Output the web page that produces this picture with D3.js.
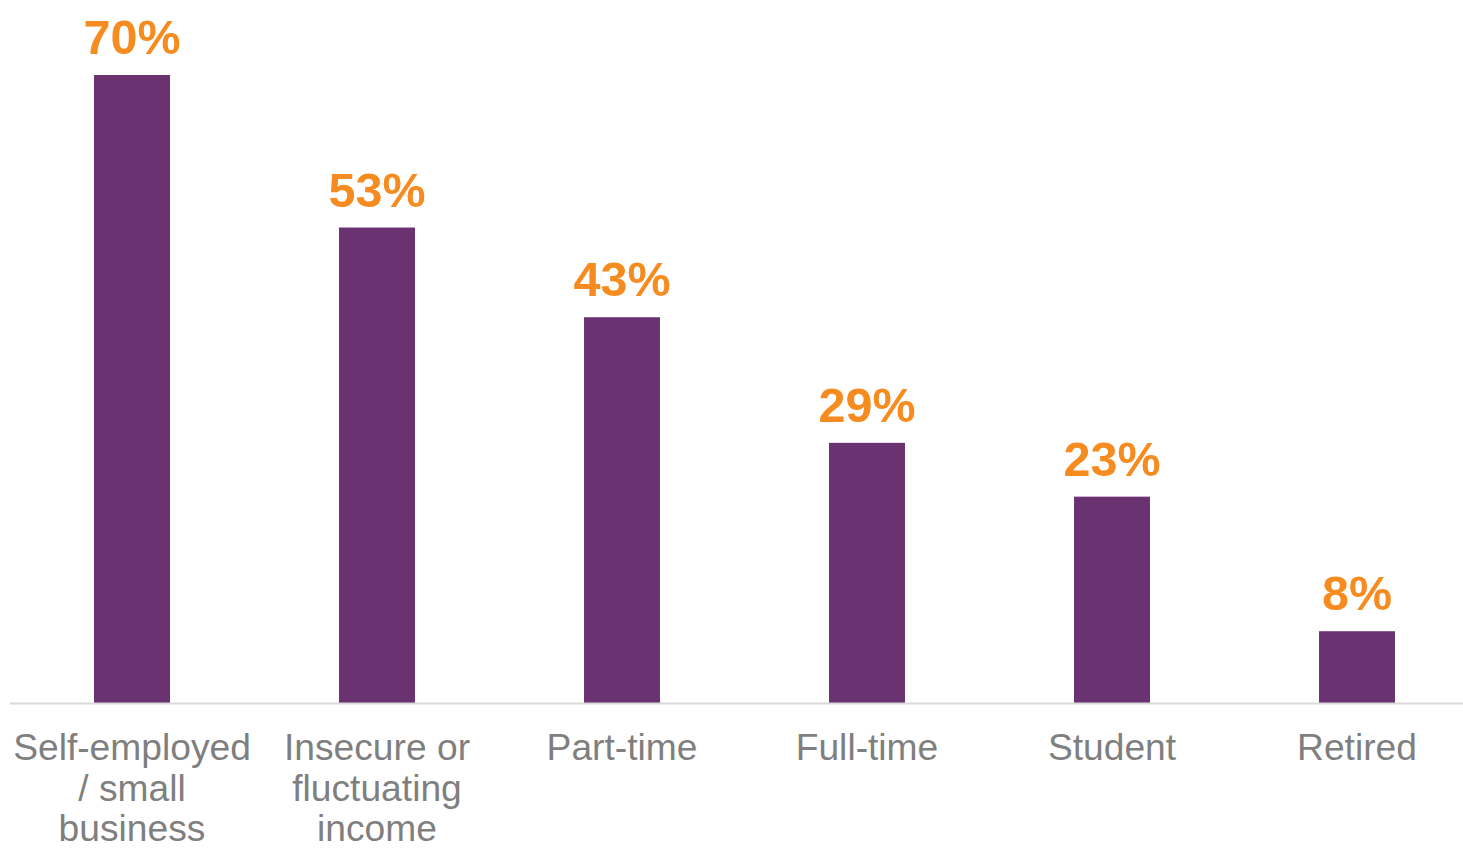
<!DOCTYPE html>
<html>
<head>
<meta charset="utf-8">
<script src="https://cdn.jsdelivr.net/npm/d3@7/dist/d3.min.js"></script>
<style>
  html, body { margin: 0; padding: 0; background: #ffffff; }
  svg { display: block; }
</style>
</head>
<body>
<svg id="chart" width="1463" height="849"></svg>
<script>
// Share of respondents by employment status
const categories = [
  ["Self-employed", "/ small", "business"],
  ["Insecure or", "fluctuating", "income"],
  ["Part-time"],
  ["Full-time"],
  ["Student"],
  ["Retired"]
];
const values = [70, 53, 43, 29, 23, 8];
const valueLabels = ["70%", "53%", "43%", "29%", "23%", "8%"];

const svg = d3.select("#chart");
const baseline = 703;

const keys = categories.map((c, i) => i);
const x = d3.scaleBand()
  .domain(keys)
  .range([9.5, 1479.5])
  .paddingInner(0.69)
  .paddingOuter(0.345);

const y = d3.scaleLinear()
  .domain([0, 70])
  .range([baseline, 75]);

// bars
svg.append("g")
  .selectAll("rect")
  .data(values)
  .join("rect")
  .attr("x", (d, i) => x(i))
  .attr("y", d => y(d))
  .attr("width", x.bandwidth())
  .attr("height", d => y(0) - y(d))
  .attr("fill", "#6a3271");

// baseline axis
svg.append("line")
  .attr("x1", 10).attr("x2", 1463)
  .attr("y1", baseline + 0.5).attr("y2", baseline + 0.5)
  .attr("stroke", "#d9d9d9")
  .attr("stroke-width", 2);

// value labels
svg.append("g")
  .selectAll("text")
  .data(values)
  .join("text")
  .attr("x", (d, i) => x(i) + x.bandwidth() / 2)
  .attr("y", d => y(d) - 21)
  .attr("text-anchor", "middle")
  .attr("font-family", "Liberation Sans, Arial, sans-serif")
  .attr("font-weight", "bold")
  .attr("font-size", "48.5px")
  .attr("fill", "#f68b1f")
  .text((d, i) => valueLabels[i]);

// category labels (multi-line, centred under each bar)
const catG = svg.append("g")
  .selectAll("text")
  .data(categories)
  .join("text")
  .attr("x", (d, i) => x(i) + x.bandwidth() / 2)
  .attr("y", 760)
  .attr("text-anchor", "middle")
  .attr("font-family", "Liberation Sans, Arial, sans-serif")
  .attr("font-size", "37.2px")
  .attr("fill", "#7f7f7f");

catG.selectAll("tspan")
  .data((d, i) => d.map(line => ({ line, i })))
  .join("tspan")
  .attr("x", d => x(d.i) + x.bandwidth() / 2)
  .attr("dy", (d, j) => j === 0 ? 0 : 40.5)
  .text(d => d.line);
</script>
</body>
</html>
